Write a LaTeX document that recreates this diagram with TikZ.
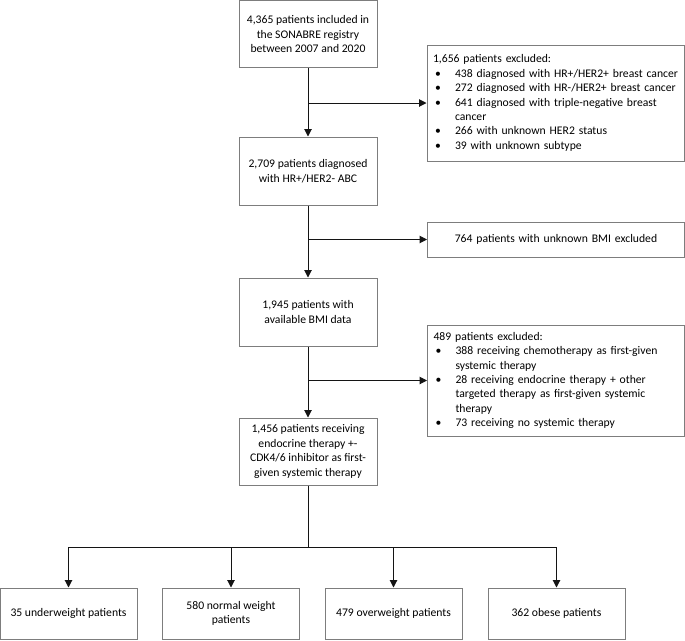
\documentclass[tikz,border=0pt]{standalone}
\usepackage{fontspec}
\setmainfont{Carlito}
\usetikzlibrary{arrows.meta}
\newdimen\px \px=0.75pt
\definecolor{boxgray}{RGB}{125,125,125}
\definecolor{linec}{RGB}{20,20,20}
\newcommand{\bitem}[1]{\makebox[16.5pt][l]{\hspace*{1.5pt}\textbullet}\mbox{#1}}
\newcommand{\bind}[1]{\hspace*{16.5pt}\mbox{#1}}
\begin{document}
\begin{tikzpicture}[x=0.75pt,y=-0.75pt,
  txt/.style={font=\fontsize{8.75}{10.8}\selectfont},
  box/.style={txt,draw=boxgray,line width=0.75pt,minimum width=138\px,minimum height=68\px,align=center,inner sep=0pt},
  lowbox/.style={box,minimum width=137\px,minimum height=51\px},
  excl/.style={txt,draw=boxgray,line width=0.75pt,text width=245\px,inner xsep=6\px,inner ysep=0pt,align=left},
  conn/.style={draw=linec,line width=0.75pt},
  arr/.style={conn,-{Triangle[length=5.5pt,width=5.5pt]}}]
\useasboundingbox (0,0) rectangle (685,640);
\node[box,minimum height=67\px] (b1) at (308,34) {4,365 patients included in\\the SONABRE registry\\between 2007 and 2020};
\node[box] (b2) at (308,171) {2,709 patients diagnosed\\with HR+/HER2- ABC};
\node[box] (b3) at (308,312) {1,945 patients with\\available BMI data};
\node[box,minimum height=67\px] (b4) at (308,451.5) {1,456 patients receiving\\endocrine therapy +-\\CDK4/6 inhibitor as first-\\given systemic therapy};
\node[excl,minimum height=116\px] (e1) at (555.5,103) {\mbox{1,656 patients excluded:}\\
\bitem{438 diagnosed with HR+/HER2+ breast cancer}\\
\bitem{272 diagnosed with HR-/HER2+ breast cancer}\\
\bitem{641 diagnosed with triple-negative breast}\\
\bind{cancer}\\
\bitem{266 with unknown HER2 status}\\
\bitem{39 with unknown subtype}};
\node[excl,minimum height=35\px,align=center] (e2) at (556,239.5) {764 patients with unknown BMI excluded};
\node[excl,minimum height=111\px] (e3) at (556,380.5) {\mbox{489 patients excluded:}\\
\bitem{388 receiving chemotherapy as first-given}\\
\bind{systemic therapy}\\
\bitem{28 receiving endocrine therapy + other}\\
\bind{targeted therapy as first-given systemic}\\
\bind{therapy}\\
\bitem{73 receiving no systemic therapy}};
\node[lowbox] (c1) at (68.5,613.5) {35 underweight patients};
\node[lowbox] (c2) at (231,613.5) {580 normal weight\\patients};
\node[lowbox] (c3) at (393.5,613.5) {479 overweight patients};
\node[lowbox] (c4) at (556.5,613.5) {362 obese patients};
\coordinate (j) at (308,547);
\draw[arr] (b1) -- (b2);
\draw[arr] (b2) -- (b3);
\draw[arr] (b3) -- (b4);
\draw[arr] (b1.south |- e1.west) -- (e1.west);
\draw[arr] (b2.south |- e2.west) -- (e2.west);
\draw[arr] (b3.south |- e3.west) -- (e3.west);
\draw[conn] (b4) -- (j);
\draw[conn] (c1.north |- j) -- (c4.north |- j);
\draw[arr] (c1.north |- j) -- (c1);
\draw[arr] (c2.north |- j) -- (c2);
\draw[arr] (c3.north |- j) -- (c3);
\draw[arr] (c4.north |- j) -- (c4);
\end{tikzpicture}
\end{document}
